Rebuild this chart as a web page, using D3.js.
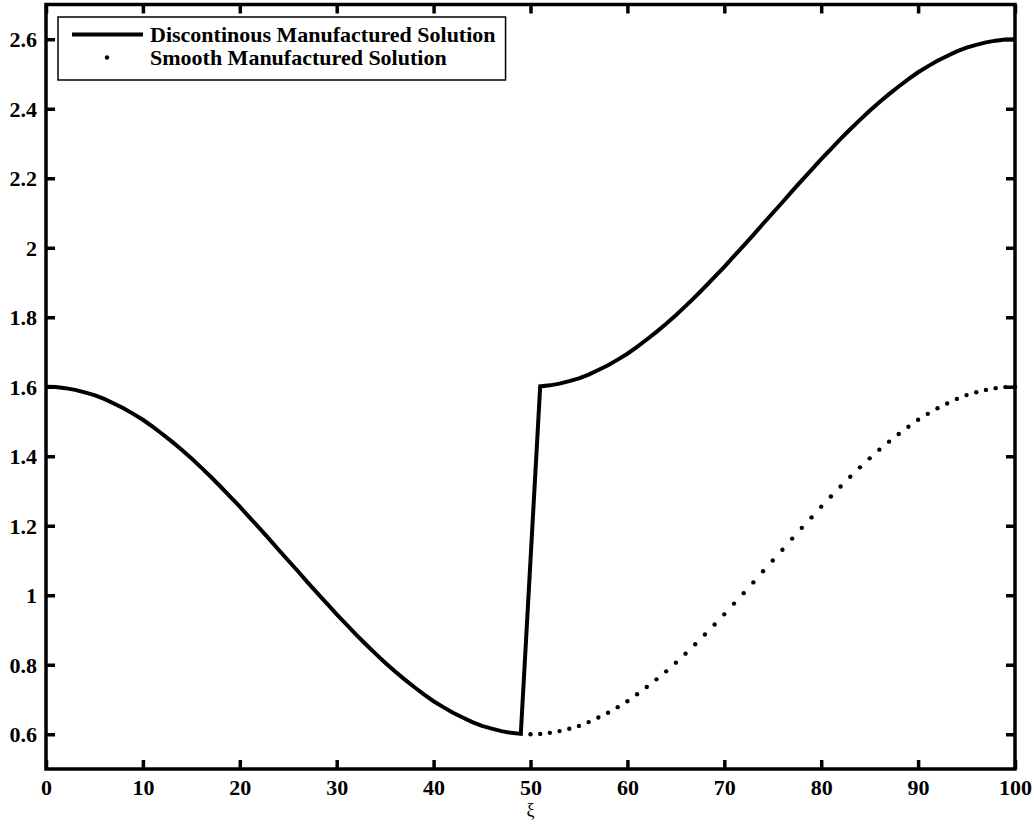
<!DOCTYPE html>
<html>
<head>
<meta charset="utf-8">
<script src="https://cdn.jsdelivr.net/npm/d3@7"></script>
<style>
  body { margin: 0; background: #fff; }
  text { font-family: "Liberation Serif", "Times New Roman", serif; font-weight: bold; }
</style>
</head>
<body>
<div id="chart"></div>
<script>
// xi positions of the two curves
const disc_x = d3.range(0, 50).concat(d3.range(51, 101));
const smooth_x = d3.range(50, 101);

// discontinuous manufactured solution
const disc_y = [
	1.600, 1.599, 1.596, 1.591, 1.584, 1.576, 1.565, 1.552, 1.538, 1.522,
	1.505, 1.485, 1.464, 1.442, 1.419, 1.394, 1.368, 1.341, 1.313, 1.284,
	1.255, 1.224, 1.194, 1.163, 1.131, 1.100, 1.069, 1.037, 1.006, 0.976,
	0.945, 0.916, 0.887, 0.859, 0.832, 0.806, 0.781, 0.758, 0.736, 0.715,
	0.695, 0.678, 0.662, 0.648, 0.635, 0.624, 0.616, 0.609, 0.604, 0.601,
	1.601, 1.604, 1.609, 1.616, 1.624, 1.635, 1.648, 1.662, 1.678, 1.695,
	1.715, 1.736, 1.758, 1.781, 1.806, 1.832, 1.859, 1.887, 1.916, 1.945,
	1.976, 2.006, 2.037, 2.069, 2.100, 2.131, 2.163, 2.194, 2.224, 2.255,
	2.284, 2.313, 2.341, 2.368, 2.394, 2.419, 2.442, 2.464, 2.485, 2.505,
	2.522, 2.538, 2.552, 2.565, 2.576, 2.584, 2.591, 2.596, 2.599, 2.600
];

// smooth manufactured solution (dots)
const smooth_y = [
	0.600, 0.601, 0.604, 0.609, 0.616, 0.624, 0.635, 0.648, 0.662, 0.678,
	0.695, 0.715, 0.736, 0.758, 0.781, 0.806, 0.832, 0.859, 0.887, 0.916,
	0.945, 0.976, 1.006, 1.037, 1.069, 1.100, 1.131, 1.163, 1.194, 1.224,
	1.255, 1.284, 1.313, 1.341, 1.368, 1.394, 1.419, 1.442, 1.464, 1.485,
	1.505, 1.522, 1.538, 1.552, 1.565, 1.576, 1.584, 1.591, 1.596, 1.599,
	1.600
];

const x_ticks = [0, 10, 20, 30, 40, 50, 60, 70, 80, 90, 100];
const y_ticks = [0.6, 0.8, 1.0, 1.2, 1.4, 1.6, 1.8, 2.0, 2.2, 2.4, 2.6];
const legend_labels = ["Discontinous Manufactured Solution", "Smooth Manufactured Solution"];

const width = 1034, height = 831;
const margin = { top: 4.5, right: 19, bottom: 62, left: 46 };
const tick_len = 9;
const font_px = "22px";
const serif = '"Liberation Serif", "Times New Roman", serif';

const svg = d3.select("#chart")
	.append("svg")
	.attr("width", width)
	.attr("height", height);

const x = d3.scaleLinear().domain([0, 100]).range([margin.left, width - margin.right]);
const y = d3.scaleLinear().domain([0.5, 2.7]).range([height - margin.bottom, margin.top]);

const fmt = (d) => String(+d.toFixed(1));

// axes (inward ticks on all four sides)
const ax_bottom = svg.append("g")
	.attr("transform", "translate(0," + y.range()[0] + ")")
	.call(d3.axisBottom(x).tickValues(x_ticks).tickSize(-tick_len).tickFormat(fmt));
const ax_top = svg.append("g")
	.attr("transform", "translate(0," + y.range()[1] + ")")
	.call(d3.axisTop(x).tickValues(x_ticks).tickSize(-tick_len).tickFormat(""));
const ax_left = svg.append("g")
	.attr("transform", "translate(" + x.range()[0] + ",0)")
	.call(d3.axisLeft(y).tickValues(y_ticks).tickSize(-tick_len).tickPadding(9).tickFormat(fmt));
const ax_right = svg.append("g")
	.attr("transform", "translate(" + x.range()[1] + ",0)")
	.call(d3.axisRight(y).tickValues(y_ticks).tickSize(-tick_len).tickFormat(""));

[ax_bottom, ax_top, ax_left, ax_right].forEach((g) => {
	g.select(".domain").remove();
	g.selectAll(".tick line").attr("stroke", "#000").attr("stroke-width", 3.5);
	g.selectAll(".tick text")
		.attr("fill", "#000")
		.style("font-family", serif)
		.style("font-weight", "bold")
		.style("font-size", font_px);
});
ax_bottom.selectAll(".tick text").attr("y", 26).attr("dy", 0);
ax_left.selectAll(".tick text").attr("dy", "0.34em");

// frame
svg.append("rect")
	.attr("x", x.range()[0])
	.attr("y", y.range()[1])
	.attr("width", x.range()[1] - x.range()[0])
	.attr("height", y.range()[0] - y.range()[1])
	.attr("fill", "none")
	.attr("stroke", "#000")
	.attr("stroke-width", 3.5);

// x label
svg.append("text")
	.attr("x", (x.range()[0] + x.range()[1]) / 2)
	.attr("y", 816)
	.attr("text-anchor", "middle")
	.style("font-size", "18px")
	.style("font-weight", "normal")
	.text("ξ");

// discontinuous line
const line = d3.line()
	.x((d, i) => x(disc_x[i]))
	.y((d) => y(d));
svg.append("path")
	.datum(disc_y)
	.attr("d", line)
	.attr("fill", "none")
	.attr("stroke", "#000")
	.attr("stroke-width", 4)
	.attr("stroke-linejoin", "miter");

// smooth dots
svg.selectAll("circle.smooth")
	.data(smooth_y)
	.enter()
	.append("circle")
	.attr("class", "smooth")
	.attr("cx", (d, i) => x(smooth_x[i]))
	.attr("cy", (d) => y(d))
	.attr("r", 2.2)
	.attr("fill", "#000");

// legend
const lg = svg.append("g");
const lg_rows = [34.5, 57.5];
const lg_text = lg.selectAll("text")
	.data(legend_labels)
	.enter()
	.append("text")
	.attr("x", 150)
	.attr("y", (d, i) => lg_rows[i])
	.attr("dy", "0.34em")
	.style("font-size", font_px)
	.text((d) => d);
const text_w = d3.max(lg_text.nodes(), (n) => n.getComputedTextLength());
lg.insert("rect", "text")
	.attr("x", 58).attr("y", 17)
	.attr("width", 150 + text_w + 10 - 58).attr("height", 63)
	.attr("fill", "#fff")
	.attr("stroke", "#000")
	.attr("stroke-width", 1.5);
lg.append("line")
	.attr("x1", 72).attr("x2", 143)
	.attr("y1", lg_rows[0]).attr("y2", lg_rows[0])
	.attr("stroke", "#000").attr("stroke-width", 4);
lg.append("circle")
	.attr("cx", 107).attr("cy", lg_rows[1]).attr("r", 2.2).attr("fill", "#000");
</script>
</body>
</html>
